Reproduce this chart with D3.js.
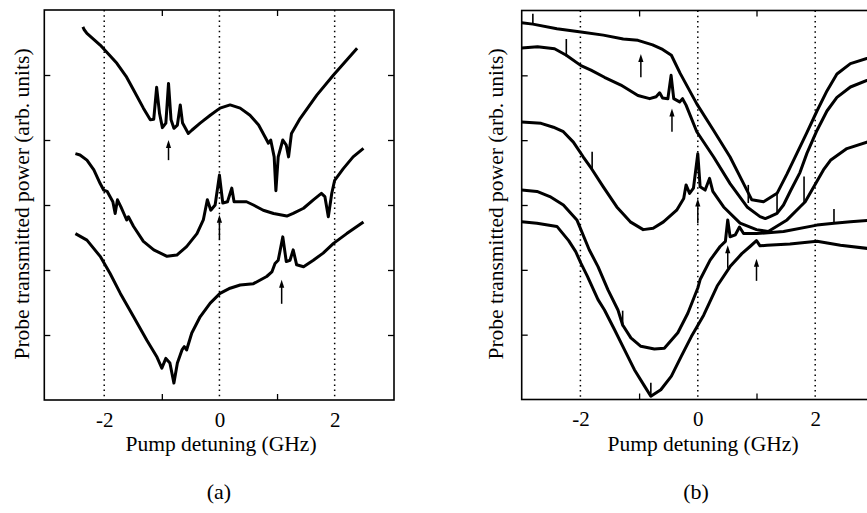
<!DOCTYPE html>
<html>
<head>
<meta charset="utf-8">
<script src="https://cdn.jsdelivr.net/npm/d3@7"></script>
<style>
  body { margin: 0; background: #fff; }
  svg { display: block; }
  svg text { font-family: "Liberation Serif", Tinos, "Times New Roman", Times, "DejaVu Serif", serif !important; fill: #000; }
</style>
</head>
<body>
<div id="chart"></div>
<script>
// ---- data: [detuning GHz, power arb. units] ----
var curveA1 = [[-2.37,5.74],[-2.35,5.70],[-2.30,5.64],[-2.07,5.46],[-1.78,5.18],[-1.62,4.98],[-1.49,4.77],[-1.32,4.49],[-1.20,4.31],[-1.14,4.32],[-1.09,4.81],[-1.04,4.41],[-0.99,4.19],[-0.93,4.26],[-0.884,4.87],[-0.84,4.31],[-0.79,4.18],[-0.73,4.23],[-0.68,4.54],[-0.64,4.26],[-0.54,4.10],[-0.48,4.15],[-0.335,4.26],[-0.16,4.38],[0.01,4.49],[0.185,4.54],[0.36,4.49],[0.53,4.38],[0.68,4.23],[0.79,4.05],[0.85,3.95],[0.89,4.0],[0.95,3.74],[0.98,3.22],[1.02,3.74],[1.10,4.0],[1.16,3.92],[1.20,3.74],[1.25,4.10],[1.40,4.33],[1.69,4.69],[1.98,5.0],[2.21,5.23],[2.39,5.41]];
var curveA2 = [[-2.50,3.79],[-2.42,3.77],[-2.30,3.69],[-2.18,3.54],[-2.07,3.33],[-2.01,3.23],[-1.95,3.21],[-1.90,3.13],[-1.85,3.05],[-1.81,2.87],[-1.77,3.08],[-1.71,2.97],[-1.65,2.85],[-1.61,2.77],[-1.58,2.82],[-1.49,2.67],[-1.32,2.44],[-1.14,2.31],[-0.91,2.21],[-0.74,2.23],[-0.57,2.36],[-0.39,2.56],[-0.28,2.77],[-0.21,3.08],[-0.15,2.92],[-0.075,3.0],[0.0,3.46],[0.058,3.03],[0.14,3.05],[0.214,3.26],[0.254,3.05],[0.36,3.05],[0.47,3.05],[0.59,3.0],[0.76,2.92],[0.94,2.87],[1.17,2.83],[1.28,2.87],[1.46,2.95],[1.63,3.08],[1.77,3.18],[1.83,3.13],[1.89,2.82],[1.95,3.18],[2.0,3.38],[2.15,3.56],[2.32,3.74],[2.50,3.87]];
var curveA3 = [[-2.50,2.56],[-2.30,2.46],[-2.07,2.21],[-1.90,1.95],[-1.72,1.64],[-1.49,1.28],[-1.26,0.92],[-1.09,0.67],[-1.0,0.49],[-0.93,0.64],[-0.86,0.57],[-0.79,0.26],[-0.73,0.57],[-0.65,0.77],[-0.61,0.82],[-0.57,0.77],[-0.48,1.03],[-0.335,1.28],[-0.16,1.49],[0.01,1.64],[0.185,1.72],[0.36,1.77],[0.59,1.79],[0.82,1.90],[0.91,1.97],[0.965,2.10],[1.02,2.15],[1.10,2.51],[1.16,2.13],[1.225,2.15],[1.28,2.31],[1.34,2.08],[1.46,2.05],[1.63,2.15],[1.80,2.26],[1.98,2.41],[2.21,2.56],[2.50,2.74]];

var curveB1 = [[-3.0,5.81],[-2.81,5.79],[-2.40,5.72],[-1.99,5.67],[-1.61,5.62],[-1.27,5.56],[-1.02,5.54],[-0.77,5.47],[-0.60,5.40],[-0.45,5.31],[-0.30,5.03],[-0.017,4.56],[0.27,4.15],[0.55,3.74],[0.78,3.33],[0.92,3.08],[1.12,3.05],[1.35,3.18],[1.52,3.48],[1.69,3.80],[1.86,4.12],[2.03,4.45],[2.20,4.76],[2.37,5.02],[2.60,5.18],[2.88,5.26],[3.0,5.29]];
var curveB2 = [[-3.0,5.42],[-2.73,5.44],[-2.44,5.41],[-2.24,5.31],[-1.99,5.15],[-1.82,5.08],[-1.59,4.97],[-1.31,4.85],[-1.02,4.69],[-0.82,4.64],[-0.71,4.67],[-0.65,4.73],[-0.60,4.65],[-0.51,4.64],[-0.455,5.0],[-0.41,4.64],[-0.31,4.59],[-0.26,4.64],[-0.20,4.54],[-0.017,4.13],[0.27,3.74],[0.55,3.33],[0.84,2.97],[1.06,2.82],[1.15,2.79],[1.23,2.82],[1.35,2.87],[1.46,3.00],[1.58,3.22],[1.74,3.50],[1.86,3.80],[2.03,4.15],[2.20,4.45],[2.37,4.66],[2.60,4.82],[2.88,4.92],[3.0,4.95]];
var curveB3 = [[-3.0,4.28],[-2.67,4.26],[-2.46,4.20],[-2.29,4.13],[-2.12,3.97],[-1.95,3.74],[-1.81,3.56],[-1.61,3.28],[-1.38,2.97],[-1.15,2.74],[-0.93,2.62],[-0.76,2.64],[-0.585,2.74],[-0.36,2.92],[-0.24,3.10],[-0.20,3.31],[-0.14,3.18],[-0.074,3.26],[0.0,3.79],[0.04,3.28],[0.125,3.23],[0.20,3.41],[0.256,3.21],[0.44,2.97],[0.72,2.72],[1.0,2.62],[1.20,2.59],[1.52,2.77],[1.74,2.97],[1.83,3.05],[2.14,3.54],[2.26,3.69],[2.54,3.87],[2.88,3.97],[3.0,4.0]];
var curveB4 = [[-3.0,3.23],[-2.74,3.21],[-2.52,3.13],[-2.29,3.0],[-2.06,2.77],[-1.85,2.31],[-1.70,2.05],[-1.53,1.69],[-1.36,1.38],[-1.28,1.15],[-1.14,0.95],[-0.97,0.82],[-0.74,0.78],[-0.57,0.79],[-0.34,1.03],[-0.17,1.33],[0.0,1.72],[0.04,1.85],[0.21,2.15],[0.38,2.36],[0.47,2.44],[0.51,2.77],[0.55,2.51],[0.64,2.54],[0.71,2.66],[0.78,2.56],[1.0,2.56],[1.46,2.59],[2.03,2.69],[2.32,2.72],[2.60,2.74],[2.89,2.76],[3.0,2.77]];
var curveB5 = [[-3.0,2.74],[-2.74,2.72],[-2.40,2.67],[-2.20,2.45],[-2.08,2.28],[-1.99,2.10],[-1.88,1.90],[-1.70,1.54],[-1.59,1.38],[-1.42,1.08],[-1.25,0.77],[-1.08,0.46],[-0.91,0.21],[-0.80,0.05],[-0.63,0.15],[-0.45,0.36],[-0.28,0.67],[-0.11,0.97],[0.10,1.30],[0.33,1.75],[0.55,2.05],[0.75,2.25],[0.89,2.36],[1.0,2.45],[1.06,2.37],[1.18,2.38],[1.57,2.40],[2.03,2.44],[2.43,2.38],[2.89,2.33],[3.0,2.33]];

// arrows: [detuning, from, to]
var arrowsA = [[-0.884,3.69,4.0],[0.0,2.47,2.85],[1.08,1.48,1.85]];
var arrowsB = [[-0.97,4.97,5.33],[-0.44,4.13,4.49],[0.0,2.72,3.10],[0.51,2.03,2.38],[1.0,1.83,2.17]];
// short vertical marks on the traces in (b): [detuning, from, to]
var marksB = [[-2.81,5.78,5.95],[0.86,3.03,3.31],[-2.24,5.29,5.56],[1.35,2.87,3.18],[-1.80,3.56,3.82],[1.81,3.03,3.44],[-1.28,1.12,1.37],[2.32,2.72,2.94],[-0.80,0.05,0.26]];

var xLabelTicks = [-2, 0, 2];
var xMinorTicks = [-1, 1];
var yTicks = [1, 2, 3, 4, 5];

var width = 867, height = 513;
var serif = '"Liberation Serif", Tinos, "Times New Roman", Times, "DejaVu Serif", serif';

var svg = d3.select("#chart").append("svg")
    .attr("width", width)
    .attr("height", height);
svg.append("rect").attr("width", width).attr("height", height).attr("fill", "#fff");

function drawPanel(opt) {
    var x = d3.scaleLinear().domain(opt.xDomain).range([opt.left, opt.right]);
    var y = d3.scaleLinear().domain([0, 6]).range([opt.bottom, opt.top]);
    var g = svg.append("g");

    // dotted grid at -2, 0, 2
    g.selectAll(".grid").data(xLabelTicks).enter().append("line")
        .attr("x1", d => x(d)).attr("x2", d => x(d))
        .attr("y1", opt.top).attr("y2", opt.bottom)
        .attr("stroke", "#000").attr("stroke-width", 1.5)
        .attr("stroke-dasharray", "1.5,3.7");

    // inward ticks
    var bottomAxis = d3.axisBottom(x).tickValues(xLabelTicks.concat(xMinorTicks))
        .tickSize(-6).tickPadding(12)
        .tickFormat(d => xLabelTicks.indexOf(d) >= 0 ? String(d) : "");
    var ax = g.append("g").attr("transform", `translate(0,${opt.bottom})`).call(bottomAxis);
    ax.selectAll(".tick").filter(d => xLabelTicks.indexOf(d) >= 0).select("line").remove();

    var topAxis = d3.axisTop(x).tickValues(xMinorTicks).tickSize(-6).tickFormat("");
    g.append("g").attr("transform", `translate(0,${opt.top})`).call(topAxis);
    g.append("g").attr("transform", `translate(${opt.left},0)`)
        .call(d3.axisLeft(y).tickValues(yTicks).tickSize(-6).tickFormat(""));
    g.append("g").attr("transform", `translate(${opt.right},0)`)
        .call(d3.axisRight(y).tickValues(yTicks).tickSize(-6).tickFormat(""));

    g.selectAll("g").attr("font-family", serif);
    g.selectAll(".domain").remove();
    g.selectAll(".tick line").attr("stroke", "#000").attr("stroke-width", 1.3);
    g.selectAll(".tick text").attr("font-size", 21).style("font-family", serif);

    // traces (sharp resonance peaks, so straight segments)
    var line = d3.line().x(d => x(d[0])).y(d => y(d[1]));
    g.selectAll(".trace").data(opt.curves).enter().append("path")
        .attr("d", line)
        .attr("fill", "none").attr("stroke", "#000")
        .attr("stroke-width", 3).attr("stroke-linejoin", "round");

    // marks
    g.selectAll(".mark").data(opt.marks).enter().append("line")
        .attr("x1", d => x(d[0])).attr("x2", d => x(d[0]))
        .attr("y1", d => y(d[1])).attr("y2", d => y(d[2]))
        .attr("stroke", "#000").attr("stroke-width", 1.6);

    // arrows
    var arr = g.selectAll(".arrow").data(opt.arrows).enter().append("g");
    arr.append("line")
        .attr("x1", d => x(d[0])).attr("x2", d => x(d[0]))
        .attr("y1", d => y(d[1])).attr("y2", d => y(d[2]) + 5)
        .attr("stroke", "#000").attr("stroke-width", 1.5);
    arr.append("path")
        .attr("d", d => {
            var px = x(d[0]), py = y(d[2]);
            return `M${px},${py} L${px - 2.6},${py + 8} L${px + 2.6},${py + 8} Z`;
        })
        .attr("fill", "#000");

    // frame
    g.append("rect")
        .attr("x", opt.left).attr("y", opt.top)
        .attr("width", opt.right - opt.left).attr("height", opt.bottom - opt.top)
        .attr("fill", "none").attr("stroke", "#000").attr("stroke-width", 1.6);

    // labels
    svg.append("text")
        .attr("transform", `translate(${opt.yLabelX},${(opt.top + opt.bottom) / 2 - 1}) rotate(-90)`)
        .attr("text-anchor", "middle").attr("font-size", 21.5)
        .style("font-family", serif)
        .text("Probe transmitted power (arb. units)");
    svg.append("text")
        .attr("x", opt.xLabelX).attr("y", 451)
        .attr("text-anchor", "middle").attr("font-size", 21.5)
        .style("font-family", serif)
        .text("Pump detuning (GHz)");
    svg.append("text")
        .attr("x", opt.tagX).attr("y", 499)
        .attr("text-anchor", "middle").attr("font-size", 22)
        .style("font-family", serif)
        .text(opt.tag);
}

drawPanel({
    xDomain: [-3.04, 3.03], left: 44.3, right: 394, top: 10, bottom: 400,
    curves: [curveA1, curveA2, curveA3], arrows: arrowsA, marks: [],
    yLabelX: 29, xLabelX: 221, tagX: 219, tag: "(a)"
});
drawPanel({
    xDomain: [-3, 3], left: 521.7, right: 873.9, top: 10.5, bottom: 399.5,
    curves: [curveB1, curveB2, curveB3, curveB4, curveB5], arrows: arrowsB, marks: marksB,
    yLabelX: 503, xLabelX: 703, tagX: 696, tag: "(b)"
});
</script>
</body>
</html>
